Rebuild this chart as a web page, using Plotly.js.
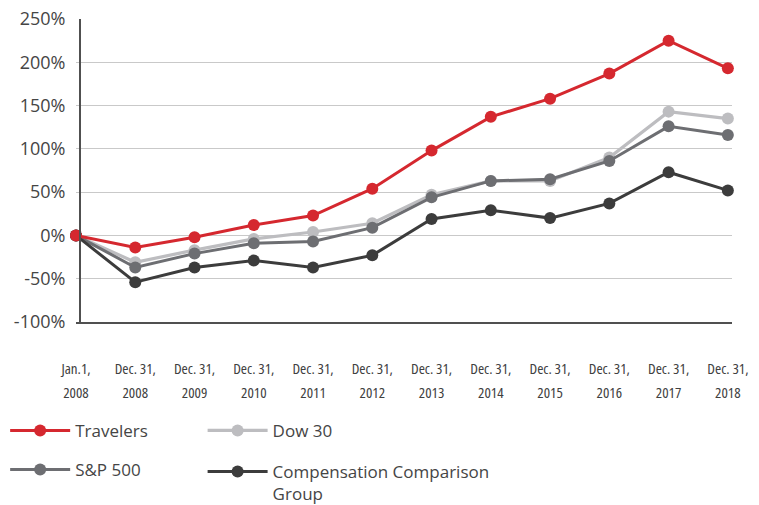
<!DOCTYPE html>
<html>
<head>
<meta charset="utf-8">
<script src="https://cdn.plot.ly/plotly-3.0.1.min.js"></script>
<style>
html,body{margin:0;padding:0;background:#fff;}
#chart{width:759px;height:505px;}
.xtick text, .x2tick text { font-stretch: 75% !important; }
</style>
</head>
<body>
<div id="chart"></div>
<script>
// Period labels (x categories)
const periods = ["Jan.1, 2008", "Dec. 31, 2008", "Dec. 31, 2009", "Dec. 31, 2010", "Dec. 31, 2011", "Dec. 31, 2012",
                 "Dec. 31, 2013", "Dec. 31, 2014", "Dec. 31, 2015", "Dec. 31, 2016", "Dec. 31, 2017", "Dec. 31, 2018"];
// Cumulative total return, %
const travelers = [0, -14, -2, 12, 23, 54, 98, 137, 158, 187, 225, 193];
const dow30     = [0, -31, -17, -4, 4, 14, 47, 63, 63, 90, 143, 135];
const sp500     = [0, -37, -21, -9, -7, 9, 44, 63, 65, 86, 126, 116];
const compGroup = [0, -54, -37, -29, -37, -23, 19, 29, 20, 37, 73, 52];
const yTicks = [-100, -50, 0, 50, 100, 150, 200, 250];

const line1 = periods.map(p => p.split(" ").slice(0, -1).join(" "));
const line2 = periods.map(p => p.split(" ").slice(-1)[0]);
const idx = periods.map((p, i) => i);

const FONT = "Open Sans, Lato, sans-serif";

function tr(name, y, color, lw, legend, rank) {
  return {
    type: "scatter", mode: "lines+markers", name: name,
    x: periods, y: y, cliponaxis: false,
    line: {color: color, width: lw},
    marker: {color: color, size: 12},
    legend: legend, legendrank: rank, legendgroup: name,
    hoverinfo: "skip"
  };
}

const data = [
  tr("Dow 30", dow30, "#bdbdc0", 3.2, "legend2", 1),
  tr("S&amp;P 500", sp500, "#6d6e72", 3, "legend", 2),
  tr("Compensation Comparison<br>Group", compGroup, "#3c3c3c", 3, "legend2", 2),
  tr("Travelers", travelers, "#d5282f", 3, "legend", 1)
];
// invisible helper so the second (year) tick-label axis is drawn
data.push({type: "scatter", mode: "none", x: idx, y: idx.map(() => null), xaxis: "x2", yaxis: "y",
           showlegend: false, hoverinfo: "skip"});

const xr = [0, 11.07];
const tickFont = {family: "Open Sans, sans-serif", size: 15, color: "#404040", weight: 400};
const legFont = {family: FONT, size: 17, color: "#454545"};
const layout = {
  width: 759, height: 505,
  margin: {l: 76, r: 27, t: 19, b: 183, autoexpand: false},
  paper_bgcolor: "#ffffff", plot_bgcolor: "#ffffff",
  showlegend: true,
  font: {family: FONT, color: "#454545", size: 17},
  xaxis: {
    type: "category", range: xr,
    tickmode: "array", tickvals: periods, ticktext: line1,
    showgrid: false, zeroline: false,
    showline: true, linecolor: "#505050", linewidth: 1.5,
    ticks: "", ticklabelstandoff: 32,
    tickfont: tickFont, automargin: false,
    fixedrange: true
  },
  xaxis2: {
    overlaying: "x", type: "linear", range: xr, side: "bottom", anchor: "y",
    tickmode: "array", tickvals: idx, ticktext: line2,
    showgrid: false, zeroline: false, showline: false,
    ticks: "", ticklabelstandoff: 60,
    tickfont: tickFont, automargin: false,
    fixedrange: true
  },
  yaxis: {
    range: [-100, 250], tickmode: "array", tickvals: yTicks,
    ticktext: yTicks.map(v => v + "%"),
    anchor: "free", position: 0.0046,
    showgrid: true, gridcolor: "#c9c9c9", gridwidth: 1.2,
    zeroline: false,
    showline: true, linecolor: "#505050", linewidth: 1.5,
    ticks: "", ticklabelstandoff: 10, automargin: false,
    tickfont: {family: FONT, size: 18, color: "#454545"},
    fixedrange: true
  },
  legend: {
    x: -0.108, y: -0.300, xanchor: "left", yanchor: "top",
    orientation: "v", traceorder: "grouped", tracegroupgap: 14,
    valign: "top", itemwidth: 60,
    font: legFont, bgcolor: "rgba(0,0,0,0)"
  },
  legend2: {
    x: 0.193, y: -0.300, xanchor: "left", yanchor: "top",
    orientation: "v", traceorder: "grouped", tracegroupgap: 16,
    valign: "top", itemwidth: 60,
    font: legFont, bgcolor: "rgba(0,0,0,0)"
  }
};

Plotly.newPlot("chart", data, layout, {displayModeBar: false, staticPlot: true});
</script>
</body>
</html>
